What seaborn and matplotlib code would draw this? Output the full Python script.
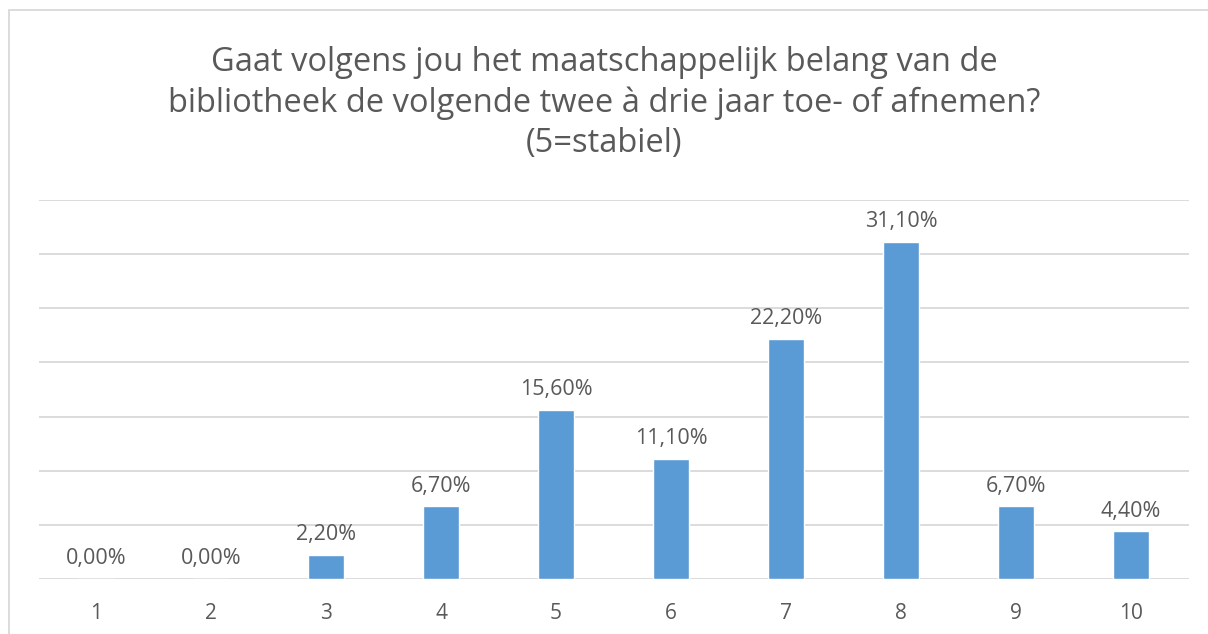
import matplotlib
matplotlib.use("Agg")
import matplotlib.pyplot as plt
import matplotlib.patches as mpatches
import pandas as pd
import seaborn as sns

# values
scores = ["1", "2", "3", "4", "5", "6", "7", "8", "9", "10"]
percent = [0.0, 0.0, 2.2, 6.7, 15.6, 11.1, 22.2, 31.1, 6.7, 4.4]
title = ("Gaat volgens jou het maatschappelijk belang van de\n"
         "bibliotheek de volgende twee à drie jaar toe- of afnemen?\n"
         "(5=stabiel)")

data = pd.DataFrame({"score": scores, "pct": percent})

sns.set_style("white")
plt.rcParams["font.family"] = ["Open Sans", "DejaVu Sans"]
text_col = "#595959"

fig = plt.figure(figsize=(12.08, 6.34), dpi=100)
ax = fig.add_axes([0.0319, 0.0868, 0.952, 0.5978])

sns.barplot(data=data, x="score", y="pct", color="#5B9BD5", width=0.31,
            saturation=1, ax=ax, zorder=3)

ax.set_ylim(0, 35)
ax.set_yticks(range(0, 36, 5))
ax.yaxis.grid(True, color="#D9D9D9", linewidth=1.3, zorder=0)
ax.set_yticklabels([])
ax.tick_params(axis="y", length=0)
ax.tick_params(axis="x", length=0, labelsize=15, labelcolor=text_col, pad=17)
ax.set_xlabel("")
ax.set_ylabel("")
for s in ax.spines.values():
    s.set_visible(False)

for i, v in enumerate(percent):
    ax.annotate(f"{v:.2f}%".replace(".", ","), (i, v), xytext=(0, 7),
                textcoords="offset points", ha="center", va="bottom",
                fontsize=15.5, color=text_col)

fig.text(0.5, 0.928, title, ha="center", va="top", fontsize=23.5,
         color=text_col, linespacing=1.29)

fig.patches.append(mpatches.Rectangle((9 / 1208, -0.1), 1.2, 1.1 - 10 / 634,
                                      transform=fig.transFigure, fill=False,
                                      edgecolor="#D9D9D9", linewidth=1.3))

fig.savefig("out.png", dpi=100)
